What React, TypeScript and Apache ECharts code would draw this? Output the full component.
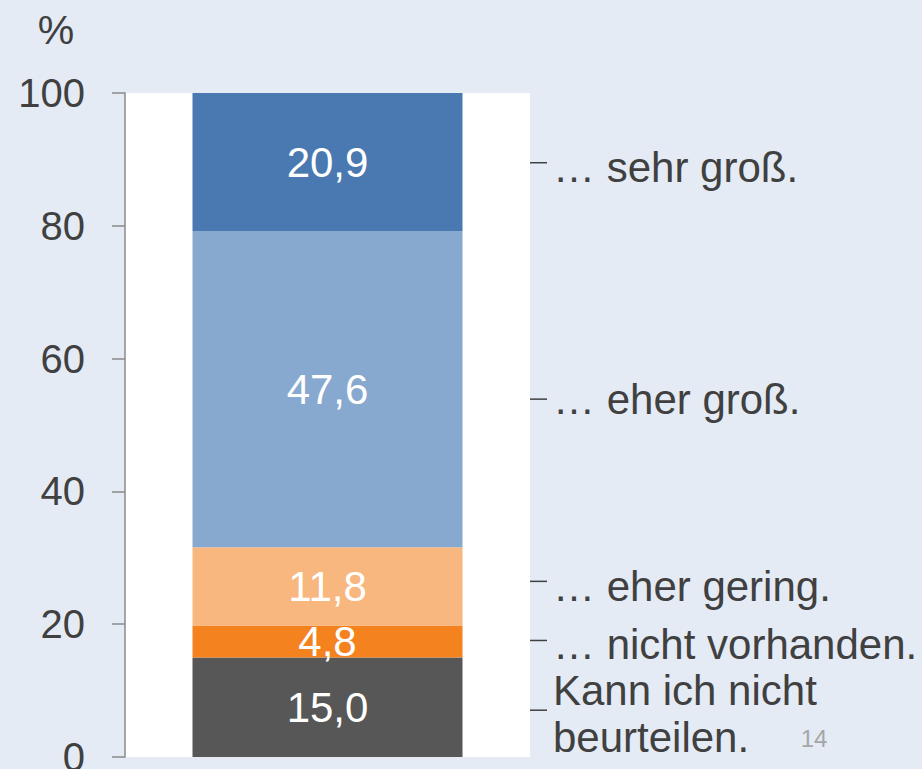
import React, { useEffect, useRef } from "react";
import * as echarts from "echarts";

// ---- data ----
const categories = ["Gesamt"];
const seriesNames = [
  "Kann ich nicht beurteilen.",
  "… nicht vorhanden.",
  "… eher gering.",
  "… eher groß.",
  "… sehr groß.",
];
const seriesValues = [15.0, 4.8, 11.8, 47.6, 20.9];
const rightLabels = [
  "Kann ich nicht\nbeurteilen.",
  "… nicht vorhanden.",
  "… eher gering.",
  "… eher groß.",
  "… sehr groß.",
];
const yTicks = [0, 20, 40, 60, 80, 100];
const axisUnit = "%";
const pageNumber = "14";

// ---- styles / layout ----
const colors = ["#575757", "#f4821f", "#f8b77f", "#88a9cf", "#4a78b0"];
const textOffsets = [7, 3, 0, 10, 6];
const dashOffsets = [3, -1, -5, 10, 1];
const FONT = '"Liberation Sans", Arial, Helvetica, sans-serif';
const TEXT = "#404040";

export default function App() {
  const ref = useRef<HTMLDivElement>(null);

  useEffect(() => {
    if (!ref.current) return;
    const chart = echarts.init(ref.current, undefined, { renderer: "svg" });
    const fmt = (v: number) => v.toFixed(1).replace(".", ",");

    chart.setOption({
      animation: false,
      backgroundColor: "#e4ebf5",
      textStyle: { fontFamily: FONT },
      grid: {
        left: 125,
        right: 392,
        top: 93,
        bottom: 12,
        containLabel: false,
        outerBoundsMode: "none",
        show: true,
        backgroundColor: "#ffffff",
        borderWidth: 0,
      },
      xAxis: { type: "category", data: categories, show: false },
      yAxis: {
        type: "value",
        min: yTicks[0],
        max: yTicks[yTicks.length - 1],
        interval: yTicks[1] - yTicks[0],
        axisLine: { show: true, lineStyle: { color: "#8a8a8a", width: 1.5 } },
        axisTick: { show: true, length: 13, lineStyle: { color: "#8a8a8a", width: 1.5 } },
        splitLine: { show: false },
        axisLabel: { fontSize: 40, color: TEXT, margin: 40, fontFamily: FONT },
      },
      series: seriesValues.map((v, i) => ({
        name: seriesNames[i],
        type: "bar",
        stack: "total",
        barWidth: 270,
        data: [v],
        itemStyle: { color: colors[i] },
        label: {
          show: true,
          position: "inside",
          color: "#ffffff",
          fontSize: 42,
          fontFamily: FONT,
          formatter: (p: any) => fmt(p.value),
        },
      })),
    });

    const graphics: any[] = [];
    let cum = 0;
    seriesValues.forEach((v, i) => {
      const mid = cum + v / 2;
      cum += v;
      const y = chart.convertToPixel({ yAxisIndex: 0 }, mid) as number;
      const multi = rightLabels[i].includes("\n");
      graphics.push({
        type: "line",
        shape: { x1: 530, y1: y + dashOffsets[i], x2: 547, y2: y + dashOffsets[i] },
        style: { stroke: TEXT, lineWidth: 1.5 },
      });
      graphics.push({
        type: "text",
        x: 553,
        y: y + textOffsets[i],
        style: {
          text: rightLabels[i],
          fill: TEXT,
          fontSize: 42,
          fontFamily: FONT,
          lineHeight: multi ? 47 : 42,
          align: "left",
          verticalAlign: "middle",
        },
      });
    });
    graphics.push({
      type: "text",
      x: 56,
      y: 30,
      style: {
        text: axisUnit,
        fill: TEXT,
        fontSize: 41,
        fontFamily: FONT,
        align: "center",
        verticalAlign: "middle",
      },
    });
    graphics.push({
      type: "text",
      x: 814,
      y: 738,
      style: {
        text: pageNumber,
        fill: "#a6a6a6",
        fontSize: 24,
        fontFamily: FONT,
        align: "center",
        verticalAlign: "middle",
      },
    });
    chart.setOption({ graphic: graphics });

    return () => chart.dispose();
  }, []);

  return (
    <div
      ref={ref}
      style={{ position: "absolute", left: 0, top: 0, width: 922, height: 769 }}
    />
  );
}
